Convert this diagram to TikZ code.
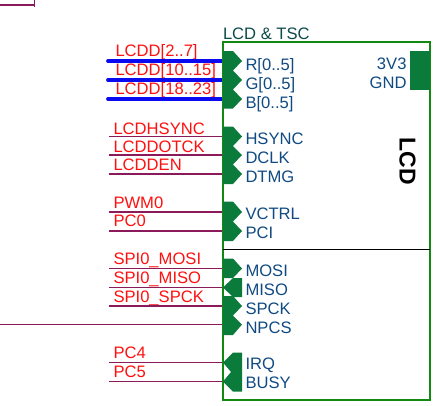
\documentclass[tikz,border=0pt]{standalone}
\usepackage{fontspec}
\setmainfont{Liberation Sans}
\definecolor{netred}{HTML}{FF1010}
\definecolor{pinblue}{HTML}{104A82}
\definecolor{titleteal}{HTML}{0F4A4A}
\definecolor{boxgreen}{HTML}{128A12}
\definecolor{pingreen}{HTML}{0A7B3A}
\definecolor{wirepurple}{HTML}{8A1A5A}
\definecolor{busblue}{HTML}{0A0AF0}
\tikzset{
 txt/.style={inner sep=0pt,outer sep=0pt,anchor=base west,font=\fontsize{16.6}{18}\selectfont},
 netlab/.style={txt,text=netred},
 pinlab/.style={txt,text=pinblue},
 wire/.style={draw=wirepurple,line width=1.7pt},
 bus/.style={draw=busblue,line width=3.8pt,line cap=round},
 pinfill/.style={fill=pingreen,draw=none},
}
\begin{document}
\begin{tikzpicture}[x=1pt,y=-1pt]
\useasboundingbox (0,0) rectangle (446,405);
% net labels
\node[netlab] (n1) at (115.5,56.7) {LCDD[2..7]};
\node[netlab] (n2) at (115.5,75) {LCDD[10..15]};
\node[netlab] (n3) at (115.5,94) {LCDD[18..23]};
\node[netlab] (n4) at (113.5,134) {LCDHSYNC};
\node[netlab] (n5) at (113.5,152.5) {LCDDOTCK};
\node[netlab] (n6) at (113.5,170.5) {LCDDEN};
\node[netlab] (n7) at (113.5,208) {PWM0};
\node[netlab] (n8) at (113.5,226.5) {PC0};
\node[netlab] (n9) at (113.5,264.5) {SPI0\_MOSI};
\node[netlab] (n10) at (113.5,283) {SPI0\_MISO};
\node[netlab] (n11) at (113.5,302) {SPI0\_SPCK};
\node[netlab] (n12) at (113.5,358.5) {PC4};
\node[netlab] (n13) at (113.5,377.5) {PC5};
% free wire ends and pin points
\foreach \n/\x/\y in {a1/108/61,a2/108/80,a3/108/99,a4/109/136.5,a5/109/155,a6/109/174,a7/109/212,a8/109/231,a9/109/268.5,a10/109/287.5,a11/109/306,a12/0/324.5,a13/109/362.5,a14/109/381.5,
 b1/223/61,b2/223/80,b3/223/99,b4/223/136.5,b5/223/155,b6/223/174,b7/223/212,b8/223/231,b9/223/268.5,b10/223/287.5,b11/223/306,b12/223/324.5,b13/223/362.5,b14/223/381.5,
 t0/0/4.7,t1/34.5/4.7,t2/34.5/0,t3/34.5/7}
 \coordinate (\n) at (\x,\y);
% wires
\foreach \i in {4,...,14} \draw[wire] (a\i) -- (b\i);
\foreach \i in {1,2,3} \draw[bus] (a\i) -- (b\i);
\draw[wire] (t0) -- (t1);
\draw[wire] (t2) -- (t3);
% component box
\coordinate (tl) at (223,42);
\coordinate (br) at (430,400);
\draw[draw=boxgreen,line width=1.2pt] (tl) rectangle (br);
\coordinate (d1) at (223,249.3);
\coordinate (d2) at (430,249.3);
\draw[black,line width=1.4pt] (d1) -- (d2);
% pins
\fill[pinfill] (223,51)--(233,51)--(242,61)--(233,70.5)--(242,80)--(233,89.5)--(242,99)--(233,108.5)--(223,108.5)--cycle;
\fill[pinfill] (223,126.5)--(233,126.5)--(242,136.5)--(233,146)--(242,155)--(233,164.5)--(242,174)--(233,184)--(223,184)--cycle;
\fill[pinfill] (223,201.5)--(233,201.5)--(242,212)--(233,221.5)--(242,231)--(233,241)--(223,241)--cycle;
\fill[pinfill] (223,258.5)--(233,258.5)--(242,268.5)--(233,278)--(223,278)--cycle;
\fill[pinfill] (233,278)--(242,278)--(242,297)--(233,297)--(223,287.5)--cycle;
\fill[pinfill] (223,296)--(233,296)--(242,306)--(233,315.5)--(242,324.5)--(233,335)--(223,335)--(223,296)--cycle;
\fill[pinfill] (233,352.5)--(242,352.5)--(242,391.5)--(233,391.5)--(223,381.5)--(231,372)--(223,362.5)--cycle;
\fill[pinfill] (410,51)--(430,51)--(430,90)--(410,90)--cycle;
% titles and pin labels
\node[txt,text=titleteal] (title) at (223,39) {LCD \& TSC};
\node[pinlab] (p1) at (245.5,70) {R[0..5]};
\node[pinlab] (p2) at (245.5,89) {G[0..5]};
\node[pinlab] (p3) at (245.5,108) {B[0..5]};
\node[pinlab] (p4) at (245.5,144) {HSYNC};
\node[pinlab] (p5) at (245.5,163) {DCLK};
\node[pinlab] (p6) at (245.5,182) {DTMG};
\node[pinlab] (p7) at (245.5,219) {VCTRL};
\node[pinlab] (p8) at (245.5,238) {PCI};
\node[pinlab] (p9) at (245.5,276) {MOSI};
\node[pinlab] (p10) at (245.5,295) {MISO};
\node[pinlab] (p11) at (245.5,314) {SPCK};
\node[pinlab] (p12) at (245.5,333) {NPCS};
\node[pinlab] (p13) at (245.5,369.5) {IRQ};
\node[pinlab] (p14) at (245.5,388.5) {BUSY};
\node[pinlab,anchor=base east] (p15) at (406.5,69) {3V3};
\node[pinlab,anchor=base east] (p16) at (406.5,88) {GND};
\node[inner sep=0pt,rotate=-90,font=\fontsize{23}{24}\bfseries\selectfont] (lcd) at (407.5,161) {LCD};
\end{tikzpicture}
\end{document}
